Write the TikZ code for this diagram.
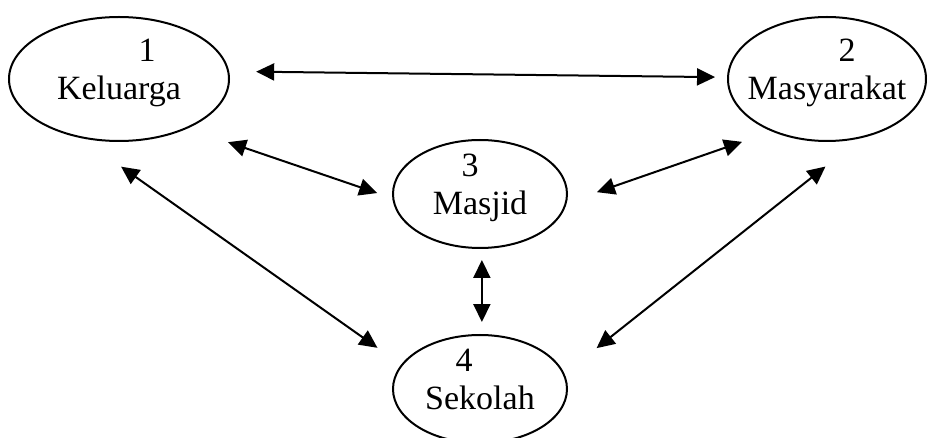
\documentclass[tikz,border=0pt]{standalone}
\usepackage{fontspec}
\setmainfont{Liberation Serif}
\usetikzlibrary{shapes}
\usetikzlibrary{arrows.meta}
\newcommand{\lowstrut}{\rule[-9.5pt]{0pt}{0pt}}
\tikzset{unit/.style={ellipse,draw=black,line width=1pt,inner sep=-6pt,outer sep=0pt,
align=center,font=\fontsize{17}{19}\selectfont},
big/.style={unit,minimum width=110pt,minimum height=62pt},
small/.style={unit,minimum width=87pt,minimum height=54pt},
link/.style={<->,line width=1pt},
>={Triangle[length=9pt,width=8.5pt]}}

\begin{document}
\begin{tikzpicture}[x=0.5pt,y=-0.5pt]
  \useasboundingbox (0,0) rectangle (928,438);
  \node (kel) [big] at (119,79) {\hspace*{28pt}1\\Keluarga\lowstrut};
  \node (mas) [big,minimum width=99pt] at (827,79) {\hspace*{20pt}2\\Masyarakat\lowstrut};
  \node (msj) [small] at (480,194) {3\hspace*{10pt}\\Masjid\lowstrut};
  \node (sek) [small] at (480,389) {4\hspace*{16pt}\\Sekolah\lowstrut};
  \draw [link,shorten <=14pt,shorten >=6.5pt] (kel.4) -- (mas.179);
  \draw [link,shorten <=22pt,shorten >=8.5pt] (kel.-36) -- (msj.183);
  \draw [link,shorten <=26pt,shorten >=15pt] (kel.-125) -- (sek.163);
  \draw [link,shorten <=16.5pt,shorten >=16.5pt] (msj.-6) -- (mas.-136);
  \draw [link,shorten <=21pt,shorten >=24pt] (sek.10) -- (mas.-58);
  \draw [link,shorten <=6pt,shorten >=6.5pt] (msj.-88) -- (sek.88);
\end{tikzpicture}
\end{document}
